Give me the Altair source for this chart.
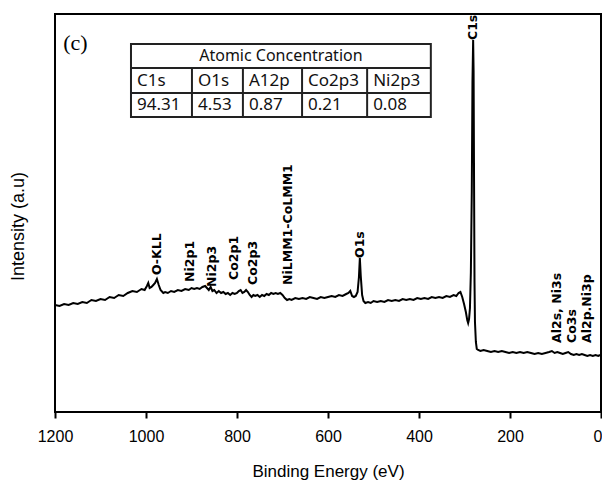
import altair as alt
import pandas as pd

# ---------------- data ----------------
energy = [1200,1190,1180,1170,1160,1150,1140,1130,1120,1110,1100,1090,1080,1070,1060,1050,1040,1030,1020,1010,
          1003,998,995,992,988,984,980,976,972,968,962,958,952,945,938,930,922,914,906,900,894,888,882,876,870,
          866,862,858,854,850,845,840,835,830,825,820,815,810,805,800,796,792,788,784,780,776,772,768,764,760,
          755,750,745,740,735,730,725,720,715,710,705,700,695,690,685,680,672,664,656,648,640,632,624,616,608,
          600,592,584,576,568,560,555,551,547,543,539,535,532,530,528,525,522,518,512,506,500,492,484,476,468,
          460,452,444,436,428,420,412,404,396,388,380,372,364,356,348,340,332,324,318,313,309,305,301,297,294,
          292,290,288,286,284,282.5,281,280,279,278,277,275,273,270,265,258,250,242,234,226,218,210,202,194,186,
          178,170,162,154,146,138,130,122,114,108,102,96,90,84,78,72,66,60,54,48,42,36,30,24,18,12,6,2]
intensity = [107,106,108,107,109,108,110,109,112,111,113,112,115,114,117,116,119,121,120,123,
             122,126,129,124,125,127,129,133,127,122,119,120,119,121,120,122,121,123,122,124,123,124,123,125,126,
             124,122,125,121,122,119,121,119,120,118,119,117,119,118,119,121,122,119,120,122,120,117,115,117,116,
             117,115,117,116,118,117,119,118,119,118,119,117,114,112,113,112,114,113,114,113,115,114,113,115,114,
             115,116,115,117,116,118,119,121,116,115,116,120,135,154,136,117,111,109,110,109,111,110,111,110,112,
             111,112,111,113,112,113,112,114,113,114,113,115,114,115,114,116,115,117,116,119,120,115,108,100,92,
             89,93,104,140,220,330,372,340,230,130,90,70,63,62,61,62,61,60,61,60,61,60,59,60,59,
             60,59,60,59,58,59,58,59,60,61,59,60,59,58,59,60,58,57,58,57,58,57,56,57,56,57,56,57]

peak_names = ["O-KLL", "Ni2p1", "Ni2p3", "Co2p1", "Co2p3", "NiLMM1-CoLMM1", "O1s", "C1s",
              "Al2s, Ni3s", "Co3s", "Al2p.Ni3p"]
peak_energy = [976, 903, 856, 807, 765, 688, 530, 281, 96, 64, 31]
peak_height = [137, 130, 125, 132, 127, 127, 154, 372, 69, 69, 69]

table_title = "Atomic Concentration"
table_elements = ["C1s", "O1s", "A12p", "Co2p3", "Ni2p3"]
table_values = ["94.31", "4.53", "0.87", "0.21", "0.08"]

panel_label = "(c)"

# ---------------- layout (not data) ----------------
col_edges = [1033, 899, 787, 657, 514, 374]   # table column edges on the energy axis
row_edges = [368, 344, 319, 295]              # table row edges on the intensity axis

xscale = alt.Scale(domain=[1200, 0], nice=False, zero=False)
yscale = alt.Scale(domain=[0, 398], nice=False, zero=False)

xaxis = alt.Axis(title="Binding Energy (eV)", values=[0, 200, 400, 600, 800, 1000, 1200],
                 format="d", grid=False, domain=False, tickSize=6, tickWidth=2,
                 tickColor="black", labelColor="black", labelFont="Liberation Sans",
                 labelFontSize=16, labelPadding=10, labelFlush=False,
                 labelAlign={"condition": {"test": "datum.value === 0", "value": "right"},
                             "value": "center"},
                 labelOffset={"condition": {"test": "datum.value === 0", "value": 1}, "value": 0},
                 titleFont="Liberation Sans", titleFontSize=17, titleFontWeight="normal",
                 titleColor="black", titleY=59, titleBaseline="middle")
yaxis = alt.Axis(title="Intensity (a.u)", labels=False, ticks=False, grid=False, domain=False,
                 titleFont="Liberation Sans", titleFontSize=18, titleFontWeight="normal",
                 titleColor="black", titleAngle=270, titleX=-37, titleY=212,
                 titleAlign="center", titleBaseline="middle")


def X(field="E"):
    return alt.X(f"{field}:Q", scale=xscale, axis=xaxis, title="Binding Energy (eV)")


def Y(field="I"):
    return alt.Y(f"{field}:Q", scale=yscale, axis=yaxis, title="Intensity (a.u)")


spec = pd.DataFrame({"E": energy, "I": intensity})
line = alt.Chart(spec).mark_line(color="black", strokeWidth=2).encode(x=X(), y=Y())

peaks = pd.DataFrame({"name": peak_names, "E": peak_energy, "I": peak_height})
peak_text = alt.Chart(peaks).mark_text(angle=270, align="left", baseline="middle", font="DejaVu Sans",
                                       fontWeight="bold", fontSize=12.5, color="black").encode(
    x=X(), y=Y(), text="name:N")

panel = alt.Chart(pd.DataFrame({"t": [panel_label], "E": [1182], "I": [369]})).mark_text(
    align="left", baseline="middle", font="Liberation Serif", fontSize=22, color="black").encode(
    x=X(), y=Y(), text="t:N")

# table frame
frame = alt.Chart(pd.DataFrame({"E": [col_edges[0]], "E2": [col_edges[-1]],
                                "I": [row_edges[0]], "I2": [row_edges[-1]]})).mark_rect(
    fill="white", stroke="#222", strokeWidth=2).encode(x=X(), x2="E2:Q", y=Y(), y2="I2:Q")
hlines = alt.Chart(pd.DataFrame({"E": [col_edges[0]] * 2, "E2": [col_edges[-1]] * 2,
                                 "I": row_edges[1:3]})).mark_rule(color="#222", strokeWidth=2).encode(
    x=X(), x2="E2:Q", y=Y())
vlines = alt.Chart(pd.DataFrame({"E": col_edges[1:-1], "I": [row_edges[1]] * 4,
                                 "I2": [row_edges[-1]] * 4})).mark_rule(color="#222", strokeWidth=2).encode(
    x=X(), y=Y(), y2="I2:Q")
head = alt.Chart(pd.DataFrame({"t": [table_title], "E": [(col_edges[0] + col_edges[-1]) / 2],
                               "I": [(row_edges[0] + row_edges[1]) / 2]})).mark_text(
    align="center", baseline="middle", font="Noto Sans", fontSize=16, color="#111").encode(
    x=X(), y=Y(), text="t:N")
cells = pd.DataFrame({
    "t": table_elements + table_values,
    "E": col_edges[:-1] * 2,
    "I": [(row_edges[1] + row_edges[2]) / 2] * 5 + [(row_edges[2] + row_edges[3]) / 2] * 5,
})
cell_text = alt.Chart(cells).mark_text(align="left", baseline="middle", dx=6, font="Noto Sans",
                                       fontSize=17, color="#111").encode(
    x=X(), y=Y(), text="t:N")

chart = alt.layer(line, peak_text, panel, frame, hlines, vlines, head, cell_text).properties(
    width=546, height=398,
    padding={"left": 47, "top": 6, "right": 1, "bottom": 70},
    autosize=alt.AutoSizeParams(type="none"),
).configure_view(stroke="black", strokeWidth=2)

chart.save("out.html", embed_options={"renderer": "svg", "actions": False})
